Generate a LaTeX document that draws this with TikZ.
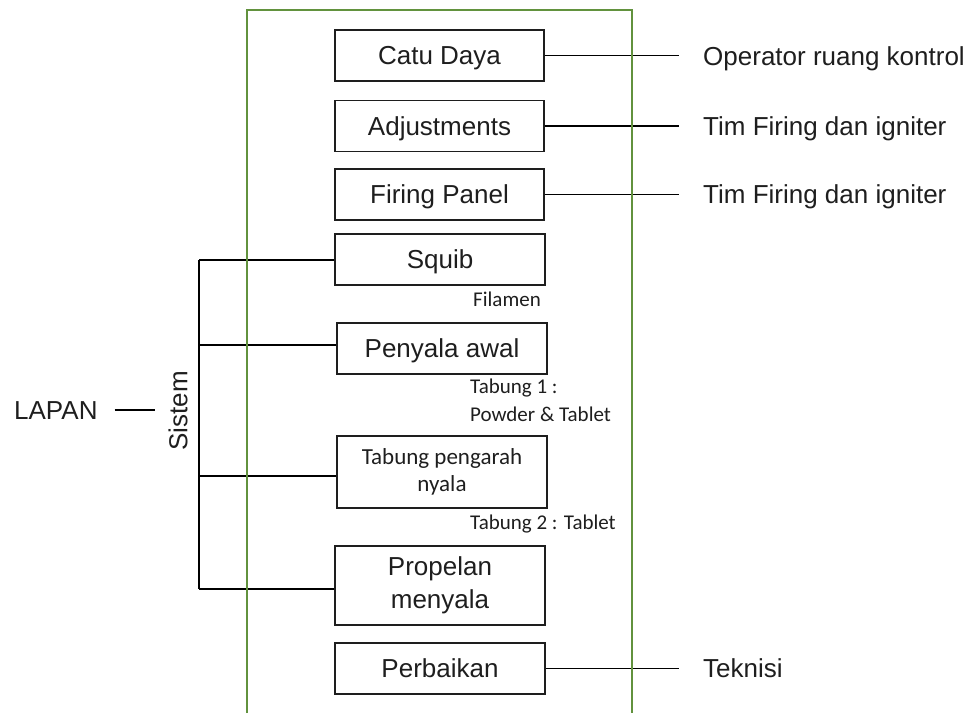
\documentclass[tikz,border=0pt]{standalone}
\usepackage{fontspec}
\setmainfont{Liberation Sans}
\newfontfamily\calibri{Carlito}
\definecolor{frame}{RGB}{98,146,62}
\definecolor{ink}{RGB}{30,30,30}
\begin{document}
\begin{tikzpicture}[x=1pt,y=-1pt,
  big/.style={font=\fontsize{26}{30}\selectfont},
  box/.style={draw=ink, line width=1.8pt, minimum width=209pt, minimum height=51pt,
    inner sep=0pt, text=ink, big, text height=18.6pt, text depth=0pt},
  tallbox/.style={draw=ink, line width=1.8pt, minimum width=210pt, inner sep=0pt,
    text=ink, align=center},
  link/.style={draw=black, line width=1.4pt},
  side/.style={anchor=base west, text=ink, big, inner sep=0pt},
  note/.style={anchor=base west, text=ink, font=\calibri\fontsize{21}{25}\selectfont, inner sep=0pt},
]
\useasboundingbox (0,0) rectangle (975,713);

% process steps
\node[box] (catu)  at (439.5,55.5) {Catu Daya};
\node[box] (adj)   at (439.5,126)  {Adjustments};
\node[box] (fire)  at (439.5,194.5) {Firing Panel};
\node[box, minimum width=210pt] (squib) at (440,259.5) {Squib};
\node[box, minimum width=210pt] (pen)   at (442,348.5) {Penyala awal};
\node[tallbox, minimum height=72pt, font=\calibri\fontsize{23}{27}\selectfont]
  (tab) at (442,472) {Tabung pengarah\\nyala};
\node[tallbox, minimum height=79pt, font=\fontsize{26}{33}\selectfont]
  (prop) at (440,585.5) {Propelan\\menyala};
\node[box, minimum width=210pt] (perb) at (440,668.5) {Perbaikan};

% notes under the steps
\node[note] (fil) at (473,306) {Filamen};
\node[note] (t1a) at (470,393) {Tabung 1 :};
\node[note] (t1b) at (470,421) {Powder \& Tablet};
\node[note] (t2)  at (470,529) {Tabung 2 : Tablet};

% responsible parties
\coordinate (rx) at (679,0);
\node[side] (op)  at (703,65)  {Operator ruang kontrol};
\node[side] (tf1) at (703,135) {Tim Firing dan igniter};
\node[side] (tf2) at (703,203) {Tim Firing dan igniter};
\node[side] (tek) at (703,677) {Teknisi};
\draw[link] (catu.east) -- (catu.east -| rx);
\draw[link] (adj.east)  -- (adj.east -| rx);
\draw[link] (fire.east) -- (fire.east -| rx);
\draw[link] (perb.east) -- (perb.east -| rx);

% system bracket
\node[side, anchor=base west] (lapan) at (14,419) {LAPAN};
\node[text=ink, big, inner sep=0pt, text height=18.6pt, text depth=0pt, rotate=90]
  (sistem) at (178,411) {Sistem};
\draw[link, shorten <=17pt, shorten >=14pt] (lapan.east) -- (lapan.east -| sistem.north);

\coordinate (b1) at (199,260);
\coordinate (b2) at (199,345);
\coordinate (b3) at (199,476);
\coordinate (b4) at (199,589);
\draw[link] (b1) -- (b4);
\draw[link] (b1) -- (b1 -| squib.west);
\draw[link] (b2) -- (b2 -| pen.west);
\draw[link] (b3) -- (b3 -| tab.west);
\draw[link] (b4) -- (b4 -| prop.west);

% enclosing frame
\draw[frame, line width=2pt] (247,713) -- (247,10) -- (632,10) -- (632,713);
\end{tikzpicture}
\end{document}
